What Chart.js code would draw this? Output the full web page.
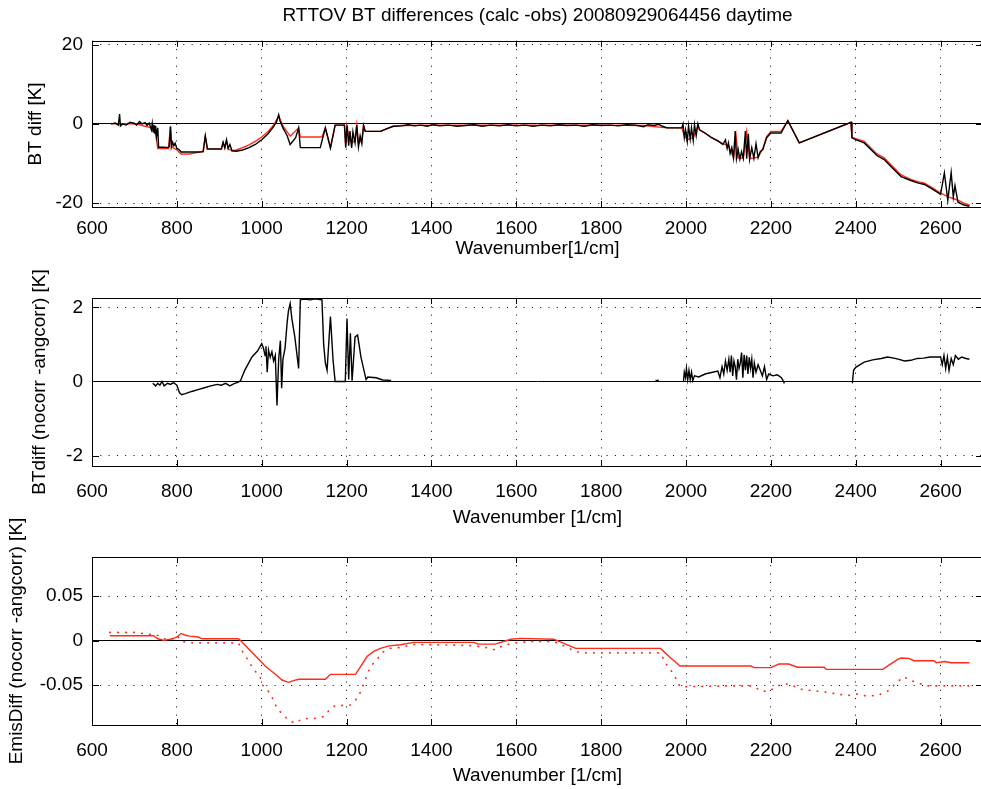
<!DOCTYPE html>
<html>
<head>
<meta charset="utf-8">
<title>RTTOV BT differences</title>
<script src="https://cdn.jsdelivr.net/npm/chart.js@4.4.1/dist/chart.umd.min.js"></script>
<style>
  html, body { margin: 0; padding: 0; background: #fff; overflow: hidden; }
  #wrap { position: relative; width: 981px; height: 789px; overflow: hidden; }
  canvas { position: absolute; left: 0; }
</style>
</head>
<body>
<div id="wrap">
  <canvas id="btChart" width="985" height="265" style="top:0px"></canvas>
  <canvas id="angChart" width="985" height="275" style="top:255px"></canvas>
  <canvas id="emisChart" width="985" height="289" style="top:500px"></canvas>
</div>
<script>
// tick values
const wnTicks = [600, 800, 1000, 1200, 1400, 1600, 1800, 2000, 2200, 2400, 2600];
const btTicks = [-20, 0, 20];
const angTicks = [-2, 0, 2];
const emisTicks = [-0.05, 0, 0.05];

// panel 1: BT diff (calc - obs), [wavenumber, K]
const btDiffBlack = [
  [645,0],[655,0.2],[662,-0.3],[665,2.5],[667,-0.5],[672,0],[680,-0.3],[690,0.4],[700,0.1],[705,-0.3],
  [712,0.6],[718,0],[725,0.3],[730,-0.4],[735,0.2],[740,-1.5],[742,0.1],[744,-2.0],[746,-0.2],[748,-2.5],
  [750,-0.5],[752,-3.2],[755,-1.0],[757,-5.9],[762,-5.9],[770,-5.9],[778,-6.0],[782,-5.8],[785,-0.6],[787,-5.8],
  [790,-4.6],[793,-5.5],[796,-4.9],[800,-6.2],[805,-6.5],[810,-7.1],[830,-7.1],[850,-7.1],[862,-7.0],[867,-3.0],
  [872,-6.3],[890,-6.3],[905,-6.3],[909,-4.6],[913,-6.0],[917,-4.0],[921,-6.2],[925,-5.2],[930,-6.8],[940,-6.9],
  [955,-6.6],[970,-6.0],[985,-5.2],[1000,-4.0],[1015,-2.5],[1028,-0.7],[1035,0.5],[1040,2.3],[1043,0.8],[1050,-1.0],
  [1060,-3.0],[1067,-5.2],[1080,-3.5],[1087,-1.0],[1091,-6.0],[1110,-6.0],[1138,-6.0],[1150,-1.0],[1162,-6.1],[1173,-0.3],
  [1185,-0.3],[1195,-0.3],[1198,-6.0],[1201,-0.4],[1205,-5.5],[1208,-1.8],[1212,-6.1],[1215,-2.0],[1220,-4.8],[1224,-0.3],
  [1228,-5.8],[1232,-3.0],[1236,-5.0],[1240,-0.4],[1244,-1.9],[1260,-1.9],[1280,-1.9],[1295,-1.2],[1310,-0.6],[1330,-0.5],
  [1345,-0.2],[1360,-0.5],[1375,-0.3],[1390,-0.6],[1405,-0.2],[1420,-0.5],[1440,-0.3],[1460,-0.6],[1480,-0.4],[1500,-0.2],
  [1520,-0.6],[1540,-0.3],[1560,-0.5],[1580,-0.2],[1600,-0.5],[1620,-0.3],[1640,-0.6],[1660,-0.3],[1680,-0.5],[1700,-0.2],
  [1720,-0.4],[1740,-0.3],[1760,-0.6],[1780,-0.2],[1800,-0.4],[1820,-0.3],[1840,-0.5],[1860,-0.2],[1880,-0.3],[1900,-0.7],
  [1910,-0.2],[1925,-0.4],[1935,-0.1],[1945,-0.6],[1955,-1.0],[1975,-1.0],[1990,-1.0],[1993,0],[1996,-3.5],[1999,-1.5],
  [2003,-4.4],[2006,-0.5],[2010,-3.8],[2013,-1.0],[2017,-4.2],[2020,-0.2],[2024,-3.0],[2028,0],[2032,-1.5],[2045,-2.3],
  [2060,-3.5],[2075,-4.3],[2087,-5.2],[2093,-4.0],[2097,-6.2],[2100,-4.8],[2104,-7.5],[2108,-6.0],[2112,-8.6],[2116,-1.8],
  [2119,-8.8],[2123,-6.5],[2127,-8.9],[2131,-7.0],[2135,-8.7],[2140,-1.8],[2143,-8.8],[2147,-2.5],[2150,-8.9],[2155,-6.0],
  [2160,-8.7],[2165,-5.0],[2170,-8.5],[2175,-7.0],[2181,-6.5],[2190,-3.5],[2200,-2.3],[2215,-2.3],[2224,-2.3],[2240,0.8],
  [2267,-4.8],[2389,0.4],[2391,-3.5],[2400,-4.0],[2420,-4.8],[2450,-8.0],[2467,-9.0],[2490,-11.5],[2507,-13.3],[2530,-14.3],
  [2546,-14.9],[2562,-15.3],[2580,-16.4],[2600,-17.8],[2609,-12.4],[2617,-19.3],[2625,-12.3],[2630,-18.5],[2634,-15.6],[2641,-19.8],
  [2655,-20.5],[2668,-20.8]
];
const btDiffRed = [
  [645,0],[700,0.1],[740,-1.0],[750,-2.5],[755,-6.2],[780,-6.2],[785,-0.8],[788,-5.8],
  [800,-6.6],[810,-7.6],[830,-7.6],[850,-7.2],[862,-7.0],[867,-3.2],[872,-6.4],[905,-6.4],[909,-4.8],[913,-6.1],
  [917,-4.2],[921,-6.3],[930,-6.8],[940,-6.6],[955,-6.0],[970,-5.3],[985,-4.4],[1000,-3.3],[1015,-1.9],[1028,-0.3],
  [1040,2.0],[1050,-0.5],[1060,-2.0],[1067,-3.1],[1087,-1.0],[1091,-3.3],[1142,-3.3],[1150,-1.0],[1162,-6.0],[1173,-0.3],
  [1195,-0.3],[1198,-5.5],[1201,-0.5],[1205,-3.0],[1212,-5.0],[1220,-4.0],[1224,-0.3],[1228,-5.0],[1236,-4.0],[1240,-0.4],
  [1244,-1.9],[1280,-1.9],[1310,-0.6],[1330,-0.4],[1400,-0.3],[1500,-0.3],[1600,-0.3],[1700,-0.3],[1800,-0.3],[1900,-0.4],
  [1955,-1.0],[1990,-1.0],[1996,-3.0],[2003,-4.0],[2017,-3.5],[2028,-0.5],[2032,-1.5],[2060,-3.4],[2087,-5.0],[2100,-5.5],
  [2112,-8.5],[2118,-3.0],[2123,-8.6],[2135,-8.6],[2143,-2.0],[2150,-8.8],[2170,-8.4],[2181,-6.3],[2190,-3.2],[2200,-1.9],
  [2224,-1.9],[2240,0.8],[2267,-4.8],[2389,0.4],[2391,-3.4],[2420,-4.4],[2450,-7.6],[2467,-8.6],[2490,-11.1],[2507,-12.9],
  [2530,-14.0],[2546,-14.6],[2562,-15.0],[2580,-16.1],[2600,-17.5],[2620,-18.5],[2641,-19.3],[2655,-20.0],[2668,-20.5]
];

// panel 2: BTdiff (nocorr - angcorr), null = gap
const angDiff = [
  [743,-0.05],[750,-0.12],[755,-0.05],[760,-0.1],[765,0],[770,-0.12],[778,-0.05],[785,-0.08],[792,-0.03],[800,-0.1],
  [806,-0.3],[811,-0.36],[820,-0.33],[835,-0.27],[850,-0.22],[865,-0.17],[880,-0.12],[895,-0.08],[905,-0.1],[915,-0.05],
  [925,-0.12],[935,-0.06],[945,-0.02],[950,0.02],[960,0.3],[977,0.66],[990,0.82],[1000,1.02],[1004,0.9],[1008,0.7],
  [1010,0.95],[1013,0.25],[1016,0.85],[1020,0.65],[1024,0.8],[1028,0.55],[1032,0.7],[1036,-0.65],[1040,0.6],[1044,1.1],
  [1047,-0.18],[1050,0.6],[1055,0.9],[1060,1.6],[1063,1.9],[1067,2.1],[1071,1.7],[1078,1.2],[1087,0.35],[1091,2.2],
  [1100,2.22],[1115,2.2],[1125,2.23],[1142,2.2],[1146,1.0],[1150,0.5],[1154,0.3],[1162,1.75],[1168,0.6],[1173,0],
  [1197,0],[1201,1.7],[1205,0.05],[1209,1.3],[1213,0.02],[1220,1.2],[1226,1.25],[1234,0.65],[1246,0.05],[1250,0.12],
  [1270,0.1],[1285,0.04],[1305,0.03],
  [1600,null],
  [1928,0.03],[1936,0.03],
  [1960,null],
  [1994,0],[1996,0.25],[1999,0.1],[2001,0.35],[2004,0.05],[2007,0.3],[2010,0.05],[2013,0.25],[2016,0.02],[2020,0.15],
  [2030,0.12],[2045,0.2],[2060,0.24],[2075,0.28],[2080,0.1],[2085,0.4],[2089,0.2],[2093,0.55],[2097,0.3],[2101,0.6],
  [2104,0.25],[2107,0.7],[2110,0.15],[2113,0.55],[2116,0.4],[2119,0.05],[2122,0.6],[2125,0.35],[2128,0.5],[2131,0.78],
  [2134,0.1],[2137,0.72],[2140,0.3],[2143,0.7],[2146,0.2],[2149,0.65],[2152,0.35],[2155,0.6],[2158,0.1],[2161,0.5],
  [2165,0.25],[2170,0.45],[2175,0.3],[2180,0.15],[2185,0.4],[2190,0.05],[2195,0.2],[2205,0.15],[2215,0.18],[2225,0.1],
  [2232,-0.05],
  [2300,null],
  [2392,-0.05],[2395,0.3],[2400,0.38],[2420,0.52],[2440,0.58],[2460,0.62],[2475,0.66],[2490,0.63],[2500,0.6],[2515,0.55],
  [2530,0.57],[2545,0.62],[2560,0.63],[2575,0.66],[2600,0.66],[2604,0.45],[2608,0.7],[2612,0.35],[2616,0.65],[2620,0.3],
  [2625,0.62],[2630,0.45],[2635,0.7],[2642,0.6],[2650,0.66],[2660,0.62],[2668,0.6]
];

// panel 3: EmisDiff (nocorr - angcorr)
const emisSolid = [
  [642,0.0054],[745,0.0054],[755,0.002],[770,0.0002],[790,0.002],[800,0.004],[810,0.008],[820,0.006],[830,0.005],[850,0.004],
  [860,0.002],[945,0.002],[950,0],[1008,-0.0287],[1030,-0.037],[1048,-0.0444],[1063,-0.047],[1075,-0.045],[1087,-0.0435],[1150,-0.0435],
  [1162,-0.038],[1221,-0.038],[1233,-0.0294],[1248,-0.018],[1265,-0.012],[1280,-0.0088],[1300,-0.006],[1327,-0.0047],[1358,-0.002],[1500,-0.002],
  [1510,-0.004],[1550,-0.004],[1587,0.0015],[1610,0.0025],[1688,0.0015],[1704,-0.0015],[1740,-0.0088],[1940,-0.0088],[1960,-0.018],[1986,-0.0287],
  [2153,-0.0287],[2160,-0.0305],[2200,-0.0305],[2219,-0.0264],[2242,-0.0264],[2263,-0.030],[2326,-0.030],[2330,-0.0324],[2464,-0.0324],[2480,-0.027],
  [2500,-0.021],[2507,-0.0197],[2525,-0.020],[2537,-0.0227],[2584,-0.0227],[2590,-0.025],[2610,-0.0235],[2625,-0.025],[2668,-0.0249]
];
const emisDotted = [
  [642,0.0092],[700,0.0092],[735,0.007],[750,0.007],[770,0.002],[790,0.002],[800,0.006],[810,-0.001],[830,-0.0025],[945,-0.0025],
  [957,-0.0144],[969,-0.0227],[980,-0.032],[996,-0.0406],[1002,-0.05],[1020,-0.0594],[1036,-0.076],[1052,-0.0845],[1063,-0.0895],[1079,-0.093],
  [1095,-0.088],[1115,-0.0875],[1130,-0.0875],[1146,-0.0855],[1158,-0.079],[1173,-0.073],[1193,-0.073],[1209,-0.0725],[1225,-0.065],[1233,-0.0575],
  [1240,-0.049],[1256,-0.0294],[1272,-0.021],[1287,-0.0125],[1303,-0.0088],[1327,-0.0077],[1342,-0.0062],[1360,-0.0043],[1476,-0.0054],[1500,-0.006],
  [1530,-0.008],[1551,-0.0106],[1565,-0.0065],[1590,-0.003],[1634,-0.001],[1688,-0.001],[1704,-0.004],[1740,-0.0125],[1760,-0.0138],[1940,-0.0138],
  [1952,-0.0256],[1964,-0.0331],[1976,-0.0425],[1986,-0.052],[2100,-0.051],[2155,-0.051],[2165,-0.053],[2177,-0.057],[2195,-0.057],[2210,-0.053],
  [2225,-0.049],[2245,-0.049],[2267,-0.0545],[2300,-0.0565],[2330,-0.058],[2355,-0.06],[2380,-0.062],[2400,-0.06],[2420,-0.062],[2450,-0.062],
  [2475,-0.057],[2495,-0.048],[2513,-0.0406],[2530,-0.045],[2550,-0.048],[2565,-0.051],[2668,-0.051]
];

const RED = '#ff2a1a';
Chart.defaults.font.family = '"Liberation Sans", Arial, Helvetica, sans-serif';
Chart.defaults.font.size = 19;
Chart.defaults.color = '#000';

function toPoints(pairs) {
  return pairs.map(p => ({ x: p[0], y: p[1] }));
}

function lineSet(pairs, color, extra) {
  return Object.assign({
    data: toPoints(pairs),
    borderColor: color,
    borderWidth: 1.4,
    pointRadius: 0,
    tension: 0,
    fill: false,
    spanGaps: false
  }, extra || {});
}

// matlab style box with inward ticks on all four sides
const boxPlugin = {
  id: 'box',
  afterDatasetsDraw(chart) {
    const { ctx, chartArea: a, scales } = chart;
    ctx.save();
    ctx.strokeStyle = '#000';
    ctx.lineWidth = 1;
    ctx.strokeRect(Math.round(a.left) + 0.5, Math.round(a.top) + 0.5,
      Math.round(a.right - a.left), Math.round(a.bottom - a.top));
    ctx.beginPath();
    scales.x.ticks.forEach(t => {
      const px = Math.round(scales.x.getPixelForValue(t.value)) + 0.5;
      ctx.moveTo(px, a.top); ctx.lineTo(px, a.top + 6);
      ctx.moveTo(px, a.bottom); ctx.lineTo(px, a.bottom - 6);
    });
    scales.y.ticks.forEach(t => {
      const py = Math.round(scales.y.getPixelForValue(t.value)) + 0.5;
      ctx.moveTo(a.left, py); ctx.lineTo(a.left + 7, py);
      ctx.moveTo(a.right, py); ctx.lineTo(a.right - 7, py);
    });
    ctx.stroke();
    ctx.restore();
  }
};

function makePanel(id, p) {
  const ctx = document.getElementById(id).getContext('2d');
  return new Chart(ctx, {
    type: 'line',
    data: { datasets: p.datasets },
    options: {
      responsive: false,
      animation: false,
      devicePixelRatio: 1,
      layout: { padding: { top: p.padTop, right: 2, left: 0, bottom: 0 } },
      plugins: {
        legend: { display: false },
        tooltip: { enabled: false },
        title: p.title ? {
          display: true,
          text: p.title,
          fullSize: false,
          color: '#000',
          font: { size: 19, weight: 'normal' },
          padding: { top: 4, bottom: 14 }
        } : { display: false }
      },
      scales: {
        x: {
          type: 'linear',
          min: 600,
          max: 2700,
          afterBuildTicks: axis => { axis.ticks = wnTicks.map(v => ({ value: v })); },
          afterFit: axis => { axis.height = p.xHeight; },
          ticks: { autoSkip: false, maxRotation: 0, padding: p.xTickPad, color: '#000', callback: v => String(v) },
          grid: { color: '#000', lineWidth: 1, drawTicks: false },
          border: { display: false, dash: [1, 7.3] },
          title: { display: true, text: p.xTitle, color: '#000', padding: { top: 0, bottom: p.xTitlePad } }
        },
        y: {
          min: p.yMin,
          max: p.yMax,
          afterBuildTicks: axis => { axis.ticks = p.yTicks.map(v => ({ value: v })); },
          afterFit: axis => { axis.width = 92; },
          ticks: { autoSkip: false, padding: 9, color: '#000', callback: p.yLabel },
          grid: { color: '#000', lineWidth: 1, drawTicks: false },
          border: {
            display: false,
            dash: c => (c.tick && c.tick.value === 0) ? [] : [1, 7.3]
          },
          title: { display: true, text: p.yTitle, color: '#000', padding: { top: p.yTitlePad, bottom: 0 } }
        }
      }
    },
    plugins: [boxPlugin]
  });
}

makePanel('btChart', {
  title: 'RTTOV BT differences (calc -obs) 20080929064456 daytime',
  padTop: 0,
  xHeight: 58,
  xTickPad: 10,
  xTitle: 'Wavenumber[1/cm]',
  xTitlePad: 5,
  yMin: -21, yMax: 21,
  yTicks: btTicks,
  yLabel: v => String(v),
  yTitle: 'BT diff [K]',
  yTitlePad: 24,
  datasets: [lineSet(btDiffBlack, '#000'), lineSet(btDiffRed, RED)]
});

makePanel('angChart', {
  padTop: 43,
  xHeight: 64,
  xTickPad: 14,
  xTitle: 'Wavenumber [1/cm]',
  xTitlePad: 0.6,
  yMin: -2.28, yMax: 2.25,
  yTicks: angTicks,
  yLabel: v => String(v),
  yTitle: 'BTdiff (nocorr -angcorr) [K]',
  yTitlePad: 28,
  datasets: [lineSet(angDiff, '#000')]
});

makePanel('emisChart', {
  padTop: 57,
  xHeight: 64,
  xTickPad: 14,
  xTitle: 'Wavenumber [1/cm]',
  xTitlePad: 1.6,
  yMin: -0.095, yMax: 0.094,
  yTicks: emisTicks,
  yLabel: v => v === 0 ? '0' : v.toFixed(2),
  yTitle: 'EmisDiff (nocorr -angcorr) [K]',
  yTitlePad: 5.6,
  datasets: [
    lineSet(emisSolid, RED, { borderWidth: 1.4 }),
    lineSet(emisDotted, RED, { borderWidth: 1.7, borderDash: [0.5, 7.5], borderCapStyle: 'round' })
  ]
});
</script>
</body>
</html>
